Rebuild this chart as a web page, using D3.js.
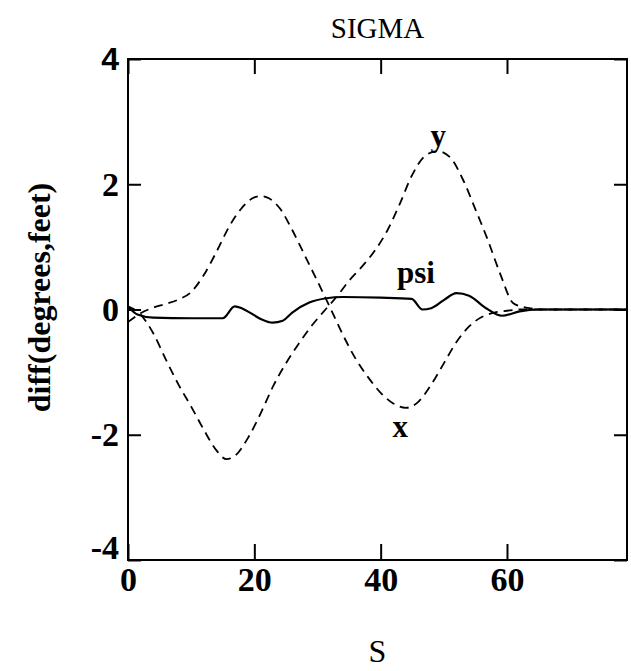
<!DOCTYPE html>
<html>
<head>
<meta charset="utf-8">
<script src="https://cdn.jsdelivr.net/npm/d3@7"></script>
<style>
  html, body { margin: 0; padding: 0; background: #fff; }
  svg { display: block; }
</style>
</head>
<body>
<svg id="chart" width="631" height="671"></svg>
<script>
// ---- data ----
const title = "SIGMA";
const xLabel = "S";
const yLabel = "diff(degrees,feet)";
const xTicks = [0, 20, 40, 60];
const yTicks = [-4, -2, 0, 2, 4];
const yTickLabels = ["-4", "-2", "0", "2", "4"];

const xSeriesS = [0, 2, 4, 6, 8, 10, 12, 14, 16, 18, 20, 21, 22, 24, 26, 28, 30, 32, 34, 36, 38, 40, 42, 44, 46, 48, 50, 52, 54, 56, 58, 60, 62, 66, 72, 79];
const xSeriesV = [-0.2, -0.06, 0.03, 0.09, 0.16, 0.28, 0.55, 0.92, 1.32, 1.62, 1.79, 1.81, 1.79, 1.62, 1.27, 0.86, 0.45, 0.03, -0.4, -0.78, -1.08, -1.33, -1.5, -1.57, -1.47, -1.2, -0.86, -0.52, -0.27, -0.12, -0.05, -0.02, 0.0, 0.0, 0.0, 0.0];

const ySeriesS = [0, 2, 4, 6, 8, 10, 12, 14, 15.6, 17, 19, 21, 23, 25, 27, 29, 31, 33, 35, 37, 39, 41, 43, 45, 47, 49, 51, 53, 55, 57, 59, 61, 63, 66, 72, 79];
const ySeriesV = [0.05, -0.08, -0.38, -0.8, -1.2, -1.55, -1.92, -2.25, -2.39, -2.33, -2.05, -1.66, -1.22, -0.86, -0.55, -0.27, -0.03, 0.2, 0.46, 0.68, 0.93, 1.25, 1.68, 2.15, 2.45, 2.53, 2.43, 2.08, 1.6, 1.1, 0.55, 0.1, 0.03, 0.0, 0.0, 0.0];

const psiS = [0, 1.5, 4, 10, 15, 16.9, 18, 19.3, 21, 22.9, 24.5, 26, 28.7, 31.4, 34, 40, 44.9, 46.6, 48, 50, 52, 54, 56.7, 59.2, 62, 65, 70, 79];
const psiV = [0.05, -0.08, -0.13, -0.14, -0.14, 0.05, 0.02, -0.05, -0.15, -0.21, -0.18, -0.05, 0.11, 0.18, 0.2, 0.19, 0.17, 0.0, 0.02, 0.15, 0.26, 0.22, 0.02, -0.1, -0.03, 0.0, 0.0, 0.0];

const curveLabels = [
  { text: "y",   s: 49.1, v: 2.53, dy: -5 },
  { text: "psi", s: 45.6, v: 0.17, dy: -16 },
  { text: "x",   s: 43.1, v: -1.56, dy: 30 }
];

// ---- layout ----
const svg = d3.select("#chart");
const pL = 128, pR = 627, pT = 59, pB = 560;
const x = d3.scaleLinear().domain([0, 79]).range([pL, pR]);
const y = d3.scaleLinear().domain([-4, 4]).range([pB, pT]);

const serif = "'Liberation Serif', 'Times New Roman', Times, serif";

// frame
svg.append("rect")
  .attr("x", pL).attr("y", pT)
  .attr("width", pR - pL).attr("height", pB - pT)
  .attr("fill", "none").attr("stroke", "#000").attr("stroke-width", 2);

// bottom axis
const gx = svg.append("g").attr("transform", `translate(0,${pB})`)
  .call(d3.axisBottom(x).tickValues(xTicks).tickSize(-16).tickPadding(7).tickFormat(d => String(d)));
gx.select(".domain").remove();
gx.selectAll(".tick line").attr("stroke", "#000").attr("stroke-width", 2);
gx.selectAll(".tick text").attr("fill", "#000")
  .style("font-family", serif).style("font-weight", "bold").style("font-size", "34px");

// top ticks
const gxt = svg.append("g").attr("transform", `translate(0,${pT})`)
  .call(d3.axisTop(x).tickValues(xTicks).tickSize(-15).tickFormat(""));
gxt.select(".domain").remove();
gxt.selectAll(".tick line").attr("stroke", "#000").attr("stroke-width", 2);

// left axis
const gy = svg.append("g").attr("transform", `translate(${pL},0)`)
  .call(d3.axisLeft(y).tickValues(yTicks).tickSize(-13).tickPadding(9)
    .tickFormat((d, i) => yTickLabels[i]));
gy.select(".domain").remove();
gy.selectAll(".tick line").attr("stroke", "#000").attr("stroke-width", 2);
gy.selectAll(".tick text").attr("fill", "#000")
  .style("font-family", serif).style("font-weight", "bold").style("font-size", "34px");
gy.selectAll(".tick text").filter(d => d === 4)
  .style("font-family", "'Liberation Sans', Arial, sans-serif").style("font-size", "32px");
gy.selectAll(".tick text").filter(d => d === -4).attr("dy", "-0.05em");

// right ticks
const gyr = svg.append("g").attr("transform", `translate(${pR},0)`)
  .call(d3.axisRight(y).tickValues(yTicks).tickSize(-13).tickFormat(""));
gyr.select(".domain").remove();
gyr.selectAll(".tick line").attr("stroke", "#000").attr("stroke-width", 2);

// curves
const line = d3.line().x(d => x(d[0])).y(d => y(d[1])).curve(d3.curveMonotoneX);
svg.append("clipPath").attr("id", "plotclip").append("rect")
  .attr("x", pL).attr("y", pT).attr("width", pR - pL).attr("height", pB - pT);
const plot = svg.append("g").attr("clip-path", "url(#plotclip)");

plot.append("path").datum(d3.zip(xSeriesS, xSeriesV)).attr("d", line)
  .attr("fill", "none").attr("stroke", "#000").attr("stroke-width", 1.8).attr("stroke-dasharray", "9,6");
plot.append("path").datum(d3.zip(ySeriesS, ySeriesV)).attr("d", line)
  .attr("fill", "none").attr("stroke", "#000").attr("stroke-width", 1.8).attr("stroke-dasharray", "9,6");
plot.append("path").datum(d3.zip(psiS, psiV)).attr("d", line)
  .attr("fill", "none").attr("stroke", "#000").attr("stroke-width", 2.2);

// curve labels
svg.selectAll(".clabel").data(curveLabels).enter().append("text")
  .attr("class", "clabel")
  .attr("x", d => x(d.s)).attr("y", d => y(d.v) + d.dy)
  .attr("text-anchor", "middle")
  .style("font-family", serif).style("font-weight", "bold").style("font-size", "31px")
  .text(d => d.text);

// title
svg.append("text").attr("x", (pL + pR) / 2).attr("y", 38)
  .attr("text-anchor", "middle")
  .style("font-family", serif).style("font-size", "29px")
  .text(title);

// x label
svg.append("text").attr("x", (pL + pR) / 2).attr("y", 662)
  .attr("text-anchor", "middle")
  .style("font-family", serif).style("font-size", "32px")
  .text(xLabel);

// y label
svg.append("text")
  .attr("transform", `translate(50,${(pT + pB) / 2 - 12}) rotate(-90)`)
  .attr("text-anchor", "middle")
  .style("font-family", serif).style("font-weight", "bold").style("font-size", "32px")
  .text(yLabel);
</script>
</body>
</html>
